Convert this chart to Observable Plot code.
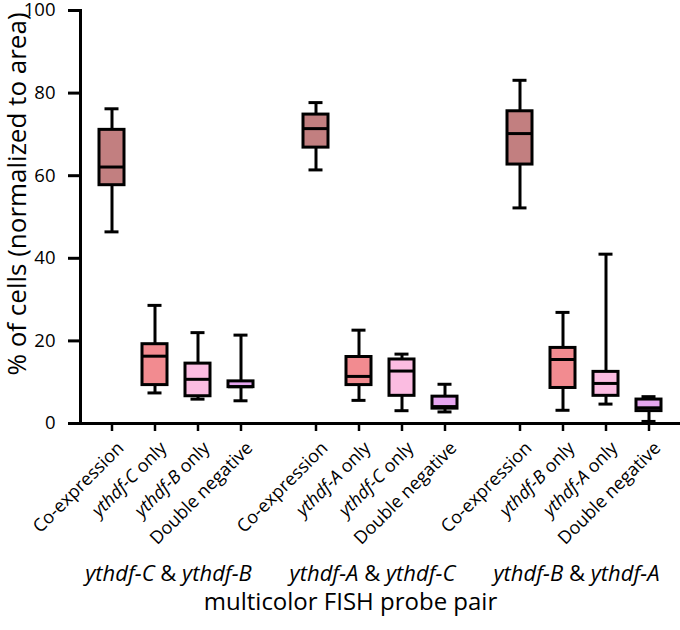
<!DOCTYPE html>
<html><head><meta charset="utf-8">
<script src="https://cdn.jsdelivr.net/npm/d3@7"></script>
<script src="https://cdn.jsdelivr.net/npm/@observablehq/plot@0.6"></script>
<style>body{margin:0;background:#fff}</style>
</head><body><div id="chart"></div>
<script>
const groups = ["ythdf-C & ythdf-B", "ythdf-A & ythdf-C", "ythdf-B & ythdf-A"];
const categories = [
  ["Co-expression", "ythdf-C only", "ythdf-B only", "Double negative"],
  ["Co-expression", "ythdf-A only", "ythdf-C only", "Double negative"],
  ["Co-expression", "ythdf-B only", "ythdf-A only", "Double negative"]
];
const minV = [46.4, 7.4, 5.9, 5.5,   61.4, 5.6, 3.1, 2.8,   52.2, 3.2, 4.7, 0.5];
const q1V  = [57.7, 9.3, 6.6, 8.8,   66.8, 9.3, 6.7, 3.6,   62.7, 8.6, 6.7, 3.0];
const medV = [62.1, 16.3, 10.7, 8.9, 71.4, 11.4, 12.7, 4.1, 70.2, 15.5, 9.7, 3.8];
const q3V  = [71.1, 19.2, 14.5, 10.2, 74.8, 16.1, 15.5, 6.5, 75.6, 18.3, 12.5, 5.8];
const maxV = [76.2, 28.6, 22.0, 21.4, 77.7, 22.6, 16.8, 9.5, 83.1, 26.9, 41.0, 6.5];
const fills = ["#c27f80", "#f28b90", "#fbbce1", "#e6a6f0"];
const yTicks = [0, 20, 40, 60, 80, 100];
const xTitle = "multicolor FISH probe pair";
const yTitle = "% of cells (normalized to area)";

const data = [];
groups.forEach((g, gi) => categories[gi].forEach((c, ci) => {
  const i = gi * 4 + ci;
  data.push({group: g, slot: ci, label: c, min: minV[i], q1: q1V[i], med: medV[i], q3: q3V[i], max: maxV[i]});
}));
const groupData = groups.map(g => ({group: g}));

const chart = Plot.plot({
  width: 680,
  height: 630,
  marginLeft: 79,
  marginRight: 0,
  marginTop: 10,
  marginBottom: 207,
  style: {fontFamily: "'Open Sans', sans-serif", fontSize: "18px", color: "black", background: "white"},
  fx: {domain: groups, paddingInner: 0.06, paddingOuter: 0, axis: null},
  x: {domain: [0, 1, 2, 3], type: "band", paddingInner: 0.43, paddingOuter: 0.4},
  y: {domain: [0, 100]},
  color: {type: "ordinal", domain: [0, 1, 2, 3], range: fills},
  marks: [
    Plot.axisY({ticks: yTicks, tickSize: 12, tickPadding: 13, fontSize: 18.5, strokeWidth: 3, label: null}),
    Plot.axisX({tickSize: 8, strokeWidth: 2.5, tickFormat: () => "", label: null}),
    Plot.frame({anchor: "left", strokeWidth: 3, facet: "super"}),
    Plot.frame({anchor: "bottom", strokeWidth: 3, facet: "super"}),
    Plot.ruleX(data, {fx: "group", x: "slot", y1: "min", y2: "max", strokeWidth: 3}),
    Plot.tickY(data, {fx: "group", x: "slot", y: "min", strokeWidth: 3, insetLeft: 5.5, insetRight: 5.5}),
    Plot.tickY(data, {fx: "group", x: "slot", y: "max", strokeWidth: 3, insetLeft: 5.5, insetRight: 5.5}),
    Plot.barY(data, {fx: "group", x: "slot", y1: "q1", y2: "q3", fill: "slot", stroke: "black", strokeWidth: 3}),
    Plot.tickY(data, {fx: "group", x: "slot", y: "med", strokeWidth: 3}),
    Plot.text(data, {fx: "group", x: "slot", text: "label", frameAnchor: "bottom", rotate: -45, textAnchor: "end", lineAnchor: "bottom", dx: 12.7, dy: 25.7, fontSize: 18}),
    Plot.text(groupData, {fx: "group", text: "group", frameAnchor: "bottom", dy: 157, dx: -8, fontSize: 22}),
    Plot.text([xTitle], {frameAnchor: "bottom", dy: 186, dx: -30, fontSize: 24, facet: "super"}),
    Plot.text([yTitle], {frameAnchor: "left", rotate: -90, textAnchor: "middle", lineAnchor: "middle", dx: -63, dy: -23, fontSize: 26, facet: "super"})
  ]
});

d3.select(chart).selectAll("text").each(function() {
  const t = this.textContent;
  if (!/ythdf-/.test(t) || this.querySelector("tspan")) return;
  const parts = t.split(/(ythdf-[A-C])/).filter(s => s !== "");
  const sel = d3.select(this);
  sel.text(null);
  parts.forEach(p => sel.append("tspan").attr("font-style", /^ythdf-/.test(p) ? "italic" : null).text(p));
});

document.getElementById("chart").appendChild(chart);
</script>
</body></html>
